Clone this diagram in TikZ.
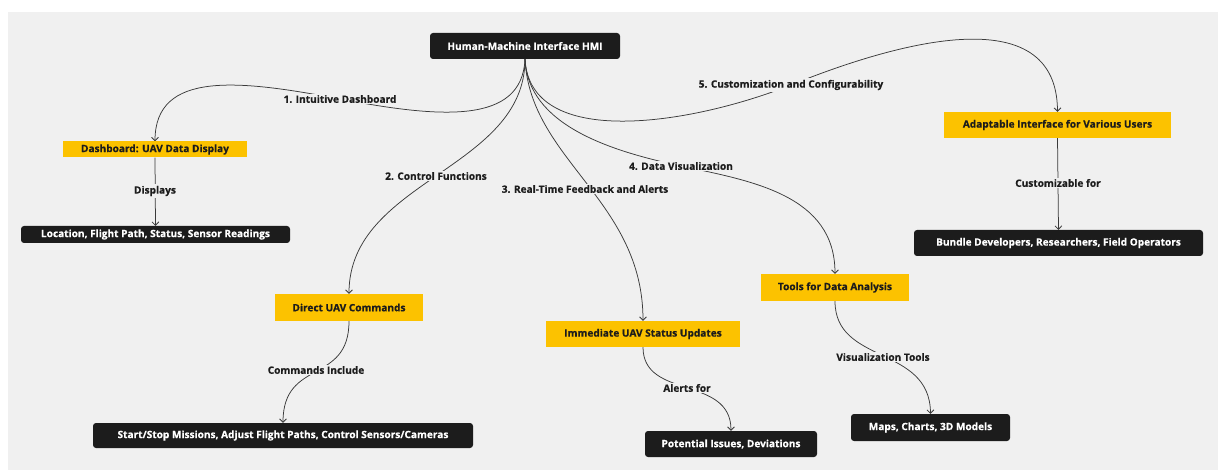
\documentclass[tikz,border=0pt]{standalone}
\usepackage{fontspec}
\setmainfont{Open Sans}[BoldFeatures={FakeBold=0.6}]
\usetikzlibrary{arrows.meta}

\definecolor{canvas}{HTML}{F0F0F0}
\definecolor{ink}{HTML}{1C1C1C}
\definecolor{amber}{HTML}{FCC200}
\definecolor{wirecol}{HTML}{3A3A3A}

\pgfdeclarelayer{back}
\pgfdeclarelayer{wires}
\pgfsetlayers{back,wires,main}

\newlength\samplewd
\newcommand\boxfs{8}
\newcommand\boxfont{\fontsize{\boxfs pt}{\boxfs pt}\selectfont\bfseries}

\tikzset{
  box/.style={inner sep=0pt, font=\boxfont, align=center},
  darkbox/.style={box, fill=ink, text=white, rounded corners=3pt},
  amberbox/.style={box, fill=amber, text=ink},
  tag/.style={font=\boxfont, text=ink, fill=canvas, inner sep=1.5pt},
  wire/.style={draw=wirecol, line width=0.75pt,
    -{Straight Barb[length=3.5pt,width=7pt]}},
}

\begin{document}
% font size chosen so that the widest bottom-left caption spans 229pt
\settowidth\samplewd{\fontsize{10pt}{12pt}\selectfont\bfseries Location, Flight Path, Status, Sensor Readings}%
\pgfmathsetmacro\boxfs{10*229/\samplewd}%
\begin{tikzpicture}[x=1pt,y=-1pt]
\useasboundingbox (0,0) rectangle (1218,470);
\begin{pgfonlayer}{back}
  \fill[white] (0,0) rectangle (1218,470);
  \fill[canvas] (8,12) rectangle (1218,470);
\end{pgfonlayer}

% root
\node[darkbox, minimum width=190pt, minimum height=26pt] (hmi) at (525,46) {Human-Machine Interface HMI};

% first-level topics
\node[amberbox, minimum width=184pt, minimum height=16pt] (dash) at (155,149.5) {Dashboard: UAV Data Display};
\node[amberbox, minimum width=148pt, minimum height=27pt] (ddc) at (349,307.5) {Direct UAV Commands};
\node[amberbox, minimum width=194pt, minimum height=26pt] (imm) at (643,334) {Immediate UAV Status Updates};
\node[amberbox, minimum width=148pt, minimum height=27pt] (tools) at (835,287.5) {Tools for Data Analysis};
\node[amberbox, minimum width=227pt, minimum height=26pt] (adapt) at (1057.5,125) {Adaptable Interface for Various Users};

% leaves
\node[darkbox, minimum width=269pt, minimum height=17pt] (loc) at (155.5,234.5) {Location, Flight Path, Status, Sensor Readings};
\node[darkbox, minimum width=380pt, minimum height=25pt] (start) at (283,435.5) {Start/Stop Missions, Adjust Flight Paths, Control Sensors/Cameras};
\node[darkbox, minimum width=172pt, minimum height=26pt] (pot) at (731,444) {Potential Issues, Deviations};
\node[darkbox, minimum width=159pt, minimum height=27pt] (maps) at (930.5,427.5) {Maps, Charts, 3D Models};
\node[darkbox, minimum width=289pt, minimum height=26pt] (bundle) at (1058.5,243) {Bundle Developers, Researchers, Field Operators};

% connector captions
\node[tag] (l1) at (340,99) {1. Intuitive Dashboard};
\node[tag] (l2) at (436,176) {2. Control Functions};
\node[tag] (l3) at (585,189) {3. Real-Time Feedback and Alerts};
\node[tag] (l4) at (681,166) {4. Data Visualization};
\node[tag] (l5) at (791,85) {5. Customization and Configurability};
\node[tag] (ld) at (155,191) {Displays};
\node[tag] (lc) at (316,370) {Commands Include};
\node[tag] (la) at (687,388) {Alerts for};
\node[tag] (lv) at (883,357) {Visualization Tools};
\node[tag] (lu) at (1058,183) {Customizable for};

\begin{pgfonlayer}{wires}
  \draw[wire] (hmi.south) .. controls (522,125) and (440,118) .. (l1.center)
              .. controls (240,80) and (155,70) .. (dash.north);
  \draw[wire] (hmi.south) .. controls (525,170) and (349,180) .. (ddc.north);
  \draw[wire] (hmi.south) .. controls (530,160) and (643,200) .. (imm.north);
  \draw[wire] (hmi.south) .. controls (528,125) and (610,151) .. (l4.center)
              .. controls (752,181) and (835,195) .. (tools.north);
  \draw[wire] (hmi.south) .. controls (530,150) and (690,125) .. (l5.center)
              .. controls (890,45) and (1057,-5) .. (adapt.north);

  \draw[wire] (dash.south) -- (loc.north);
  \draw[wire] (ddc.south) .. controls (349,385) and (283,358) .. (start.north);
  \draw[wire] (imm.south) .. controls (643,400) and (731,375) .. (pot.north);
  \draw[wire] (tools.south) .. controls (835,365) and (930,345) .. (maps.north);
  \draw[wire] (adapt.south) -- (bundle.north);
\end{pgfonlayer}
\end{tikzpicture}
\end{document}
